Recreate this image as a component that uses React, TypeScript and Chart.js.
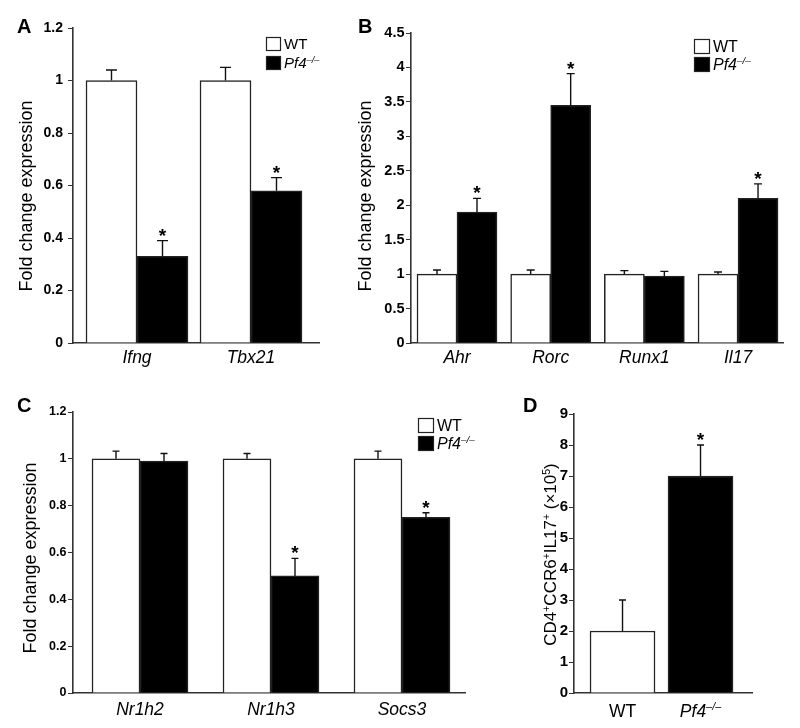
import React, { useEffect, useRef } from "react";
import { Chart, registerables } from "chart.js";

Chart.register(...registerables);

const FONT = "'Liberation Sans', Arial, Helvetica, sans-serif";

// ---------- Panel A ----------
const aGenes = ["Ifng", "Tbx21"];
const aWT = [1.0, 1.0];
const aWTErr = [0.04, 0.05];
const aKO = [0.33, 0.58];
const aKOErr = [0.06, 0.05];
const aKOSig = [true, true];

// ---------- Panel B ----------
const bGenes = ["Ahr", "Rorc", "Runx1", "Il17"];
const bWT = [1.0, 1.0, 1.0, 1.0];
const bWTErr = [0.06, 0.06, 0.05, 0.03];
const bKO = [1.9, 3.45, 0.97, 2.1];
const bKOErr = [0.2, 0.46, 0.07, 0.21];
const bKOSig = [true, true, false, true];

// ---------- Panel C ----------
const cGenes = ["Nr1h2", "Nr1h3", "Socs3"];
const cWT = [1.0, 1.0, 1.0];
const cWTErr = [0.033, 0.023, 0.033];
const cKO = [0.99, 0.5, 0.75];
const cKOErr = [0.033, 0.075, 0.02];
const cKOSig = [false, true, true];

// ---------- Panel D ----------
const dGroups = ["WT", "Pf4"];
const dValues = [2.0, 7.0];
const dErr = [1.0, 1.0];
const dSig = [false, true];

const WT_LABEL = "WT";
const KO_LABEL = "Pf4";
const KO_SUP = "\u2013/\u2013";
const Y_TITLE = "Fold change expression";

type Run = { t: string; sup?: boolean; italic?: boolean };

interface Series {
  values: number[];
  errs: number[];
  sig: boolean[];
  fill: string | string[];
}

interface PanelCfg {
  letter: string;
  box: { left: number; top: number; width: number; height: number };
  area: { left: number; top: number; right: number; bottom: number };
  xRange: [number, number];
  yMax: number;
  yStep: number;
  tickSize: number;
  tickPad: number;
  barThickness: number;
  capHalf: number;
  series: Series[];
  labels: Run[][];
  labelDy: number;
  labelSize: number;
  title: Run[];
  titleX: number;
  titleY: number;
  titleSize: number;
  letterX: number;
  letterY: number;
  legend?: { x: number; y: number; w: number; h: number; gap: number; size: number };
}

function fontStr(size: number, bold: boolean, italic: boolean) {
  return `${italic ? "italic " : ""}${bold ? "bold " : ""}${size}px ${FONT}`;
}

function drawRuns(
  ctx: CanvasRenderingContext2D,
  runs: Run[],
  x: number,
  y: number,
  size: number,
  align: "left" | "center",
  rotate: boolean
) {
  const supSize = size * 0.62;
  const rise = size * 0.38;
  let total = 0;
  const widths = runs.map((r) => {
    ctx.font = fontStr(r.sup ? supSize : size, false, !!r.italic);
    const w = ctx.measureText(r.t).width;
    total += w;
    return w;
  });
  ctx.save();
  ctx.translate(x, y);
  if (rotate) ctx.rotate(-Math.PI / 2);
  let cx = align === "center" ? -total / 2 : 0;
  ctx.fillStyle = "#000";
  ctx.textAlign = "left";
  ctx.textBaseline = "alphabetic";
  runs.forEach((r, i) => {
    ctx.font = fontStr(r.sup ? supSize : size, false, !!r.italic);
    ctx.fillText(r.t, cx, r.sup ? -rise : 0);
    cx += widths[i];
  });
  ctx.restore();
}

function makeOverlay(cfg: PanelCfg) {
  return {
    id: "overlay",
    afterDraw(chart: any) {
      const ctx: CanvasRenderingContext2D = chart.ctx;
      const ys = chart.scales.y;
      const xs = chart.scales.x;
      const ca = chart.chartArea;
      // error bars and significance stars
      cfg.series.forEach((s, di) => {
        const meta = chart.getDatasetMeta(di);
        meta.data.forEach((el: any, i: number) => {
          const top = ys.getPixelForValue(s.values[i]);
          const et = ys.getPixelForValue(s.values[i] + s.errs[i]);
          ctx.save();
          ctx.strokeStyle = "#111";
          ctx.lineWidth = 1.4;
          ctx.beginPath();
          ctx.moveTo(el.x, top);
          ctx.lineTo(el.x, et);
          ctx.moveTo(el.x - cfg.capHalf, et);
          ctx.lineTo(el.x + cfg.capHalf, et);
          ctx.stroke();
          if (s.sig[i]) {
            ctx.font = fontStr(19, true, false);
            ctx.textAlign = "center";
            ctx.textBaseline = "alphabetic";
            ctx.fillStyle = "#000";
            const m = ctx.measureText("*");
            const bottom = et - 5;
            ctx.fillText("*", el.x, bottom - m.actualBoundingBoxDescent);
          }
          ctx.restore();
        });
      });
      // category labels
      cfg.labels.forEach((runs, i) => {
        drawRuns(ctx, runs, xs.getPixelForValue(i), ca.bottom + cfg.labelDy, cfg.labelSize, "center", false);
      });
      // y title
      drawRuns(ctx, cfg.title, cfg.titleX, cfg.titleY, cfg.titleSize, "center", true);
      // panel letter
      ctx.save();
      ctx.font = fontStr(20, true, false);
      ctx.fillStyle = "#000";
      ctx.textAlign = "left";
      ctx.textBaseline = "alphabetic";
      ctx.fillText(cfg.letter, cfg.letterX, cfg.letterY);
      ctx.restore();
      // legend
      if (cfg.legend) {
        const L = cfg.legend;
        const items: { fill: string; runs: Run[] }[] = [
          { fill: "#fff", runs: [{ t: WT_LABEL }] },
          { fill: "#000", runs: [{ t: KO_LABEL, italic: true }, { t: KO_SUP, sup: true, italic: true }] },
        ];
        items.forEach((it, k) => {
          const by = L.y + k * L.gap;
          ctx.save();
          ctx.fillStyle = it.fill;
          ctx.fillRect(L.x, by, L.w, L.h);
          ctx.strokeStyle = "#222";
          ctx.lineWidth = 1.2;
          ctx.strokeRect(L.x + 0.5, by + 0.5, L.w - 1, L.h - 1);
          ctx.restore();
          drawRuns(ctx, it.runs, L.x + L.w + 3, by + L.h / 2 + L.size * 0.36, L.size, "left", false);
        });
      }
    },
  };
}

function buildConfig(cfg: PanelCfg): any {
  const datasets = cfg.series.map((s) => ({
    data: s.values.map((v, i) => ({ x: i, y: v })),
    backgroundColor: s.fill,
    borderColor: "#222",
    borderWidth: 1.5,
    barThickness: cfg.barThickness,
  }));
  return {
    type: "bar",
    data: { datasets },
    options: {
      animation: false,
      responsive: false,
      events: [],
      layout: {
        padding: {
          left: 0,
          top: cfg.area.top,
          right: cfg.box.width - cfg.area.right,
          bottom: 0,
        },
      },
      plugins: { legend: { display: false }, tooltip: { enabled: false } },
      scales: {
        x: {
          type: "linear",
          min: cfg.xRange[0],
          max: cfg.xRange[1],
          offset: false,
          bounds: "data",
          z: 1,
          ticks: { display: false },
          grid: { display: false, drawTicks: false, offset: false },
          border: { display: true, color: "#333", width: 1.6 },
          afterFit: (s: any) => {
            s.height = cfg.box.height - cfg.area.bottom;
          },
        },
        y: {
          min: 0,
          max: cfg.yMax,
          z: 1,
          ticks: {
            stepSize: cfg.yStep,
            color: "#000",
            padding: cfg.tickPad,
            font: { family: FONT, size: cfg.tickSize, weight: "bold" },
            callback: (v: number) => String(Math.round(v * 10) / 10),
          },
          grid: { display: true, drawOnChartArea: false, drawTicks: true, tickLength: 5, color: "#333", lineWidth: 1 },
          border: { display: true, color: "#333", width: 1.6 },
          afterFit: (s: any) => {
            s.width = cfg.area.left;
          },
        },
      },
    },
    plugins: [makeOverlay(cfg)],
  };
}

const geneRuns = (genes: string[]): Run[][] => genes.map((g) => [{ t: g, italic: true }]);
const titleRuns: Run[] = [{ t: Y_TITLE }];

const panelA: PanelCfg = {
  letter: "A",
  box: { left: 0, top: 0, width: 340, height: 370 },
  area: { left: 73, top: 28, right: 319, bottom: 343 },
  xRange: [-0.5614, 1.5965],
  yMax: 1.2,
  yStep: 0.2,
  tickSize: 14,
  tickPad: 5,
  barThickness: 51,
  capHalf: 5.5,
  series: [
    { values: aWT, errs: aWTErr, sig: aWT.map(() => false), fill: "#fff" },
    { values: aKO, errs: aKOErr, sig: aKOSig, fill: "#000" },
  ],
  labels: geneRuns(aGenes),
  labelDy: 19.5,
  labelSize: 17.5,
  title: titleRuns,
  titleX: 32,
  titleY: 196,
  titleSize: 18,
  letterX: 17,
  letterY: 33,
  legend: { x: 266, y: 37, w: 15, h: 14, gap: 19, size: 15 },
};

const panelB: PanelCfg = {
  letter: "B",
  box: { left: 340, top: 0, width: 460, height: 370 },
  area: { left: 71, top: 33, right: 443, bottom: 343 },
  xRange: [-0.491, 3.48],
  yMax: 4.5,
  yStep: 0.5,
  tickSize: 14.5,
  tickPad: 1.5,
  barThickness: 40,
  capHalf: 4,
  series: [
    { values: bWT, errs: bWTErr, sig: bWT.map(() => false), fill: "#fff" },
    { values: bKO, errs: bKOErr, sig: bKOSig, fill: "#000" },
  ],
  labels: geneRuns(bGenes),
  labelDy: 19.5,
  labelSize: 17.5,
  title: titleRuns,
  titleX: 31,
  titleY: 196,
  titleSize: 18,
  letterX: 18,
  letterY: 33,
  legend: { x: 354, y: 39, w: 16, h: 15, gap: 18, size: 16 },
};

const panelC: PanelCfg = {
  letter: "C",
  box: { left: 0, top: 370, width: 520, height: 358 },
  area: { left: 73, top: 42, right: 465, bottom: 323 },
  xRange: [-0.5115, 2.481],
  yMax: 1.2,
  yStep: 0.2,
  tickSize: 12.5,
  tickPad: 1.5,
  barThickness: 48,
  capHalf: 3.5,
  series: [
    { values: cWT, errs: cWTErr, sig: cWT.map(() => false), fill: "#fff" },
    { values: cKO, errs: cKOErr, sig: cKOSig, fill: "#000" },
  ],
  labels: geneRuns(cGenes),
  labelDy: 22,
  labelSize: 17.5,
  title: titleRuns,
  titleX: 36,
  titleY: 188,
  titleSize: 18,
  letterX: 17,
  letterY: 42,
  legend: { x: 418, y: 48, w: 16, h: 15, gap: 18, size: 16 },
};

const panelD: PanelCfg = {
  letter: "D",
  box: { left: 520, top: 370, width: 280, height: 358 },
  area: { left: 54, top: 44, right: 232, bottom: 323 },
  xRange: [-0.622, 1.66],
  yMax: 9,
  yStep: 1,
  tickSize: 15,
  tickPad: 1,
  barThickness: 65,
  capHalf: 3.5,
  series: [{ values: dValues, errs: dErr, sig: dSig, fill: ["#fff", "#000"] }],
  labels: [
    [{ t: dGroups[0] }],
    [
      { t: dGroups[1], italic: true },
      { t: KO_SUP, sup: true, italic: true },
    ],
  ],
  labelDy: 23.5,
  labelSize: 17.5,
  title: [
    { t: "CD4" },
    { t: "+", sup: true },
    { t: "CCR6" },
    { t: "+", sup: true },
    { t: "IL17" },
    { t: "+", sup: true },
    { t: " (\u00d710" },
    { t: "5", sup: true },
    { t: ")" },
  ],
  titleX: 36,
  titleY: 184.5,
  titleSize: 17,
  letterX: 3,
  letterY: 42,
};

function Panel({ cfg }: { cfg: PanelCfg }) {
  const ref = useRef<HTMLCanvasElement>(null);
  useEffect(() => {
    const chart = new Chart(ref.current as HTMLCanvasElement, buildConfig(cfg));
    return () => chart.destroy();
  }, [cfg]);
  return (
    <canvas
      ref={ref}
      width={cfg.box.width}
      height={cfg.box.height}
      style={{
        position: "absolute",
        left: cfg.box.left,
        top: cfg.box.top,
        width: cfg.box.width,
        height: cfg.box.height,
      }}
    />
  );
}

export default function App() {
  return (
    <div style={{ position: "absolute", left: 0, top: 0, width: 800, height: 728, background: "#fff" }}>
      <Panel cfg={panelA} />
      <Panel cfg={panelB} />
      <Panel cfg={panelC} />
      <Panel cfg={panelD} />
    </div>
  );
}
